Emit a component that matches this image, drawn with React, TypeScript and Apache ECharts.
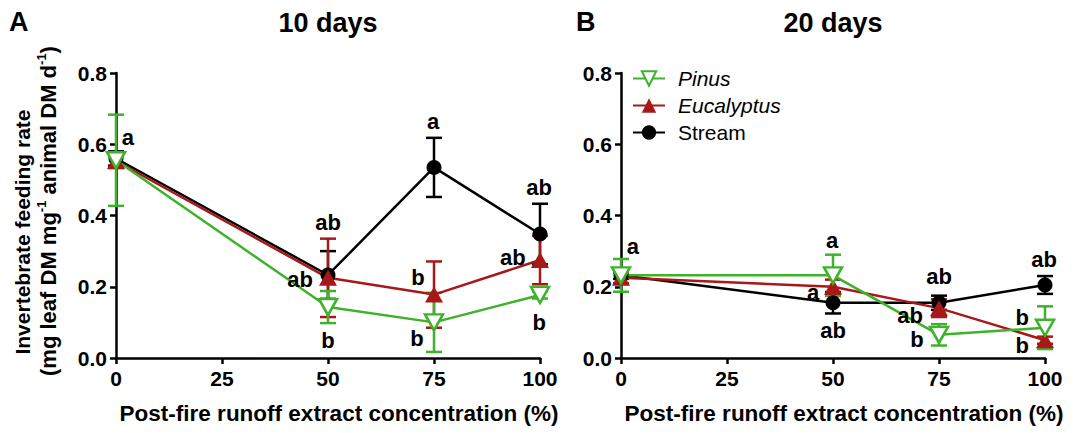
import React, { useEffect, useRef } from 'react';
import * as echarts from 'echarts';

// ---- data ----
const concentrations = [0, 50, 75, 100];
const xTicks = [0, 25, 50, 75, 100];
const yTicks = [0, 0.2, 0.4, 0.6, 0.8];

const pinus10 = [0.555, 0.143, 0.1, 0.177];
const pinus10Err = [0.128, 0.045, 0.083, 0.01];
const eucalyptus10 = [0.553, 0.225, 0.178, 0.275];
const eucalyptus10Err = [0.02, 0.11, 0.093, 0.068];
const stream10 = [0.56, 0.233, 0.535, 0.348];
const stream10Err = [0.02, 0.067, 0.083, 0.085];

const pinus20 = [0.232, 0.232, 0.065, 0.085];
const pinus20Err = [0.046, 0.058, 0.03, 0.06];
const eucalyptus20 = [0.225, 0.2, 0.14, 0.05];
const eucalyptus20Err = [0.015, 0.02, 0.025, 0.01];
const stream20 = [0.232, 0.155, 0.155, 0.205];
const stream20Err = [0.01, 0.03, 0.02, 0.025];

// significance letters: [x, y, text] in data units
const letters10: [number, number, string][] = [
  [2.8, 0.618, 'a'],
  [50, 0.379, 'ab'],
  [43.4, 0.219, 'ab'],
  [50, 0.05, 'b'],
  [74.8, 0.663, 'a'],
  [71.2, 0.225, 'b'],
  [71, 0.056, 'b'],
  [99.8, 0.48, 'ab'],
  [93.6, 0.281, 'ab'],
  [99.8, 0.101, 'b'],
];
const letters20: [number, number, string][] = [
  [2.8, 0.314, 'a'],
  [49.8, 0.331, 'a'],
  [45.3, 0.184, 'a'],
  [50, 0.076, 'ab'],
  [75, 0.229, 'ab'],
  [68.2, 0.119, 'ab'],
  [69.8, 0.051, 'b'],
  [99.8, 0.277, 'ab'],
  [94.6, 0.113, 'b'],
  [94.6, 0.034, 'b'],
];

const panelTitles = ['10 days', '20 days'];
const panelLetters = ['A', 'B'];
const seriesNames = ['Pinus', 'Eucalyptus', 'Stream'];
const xAxisTitle = 'Post-fire runoff extract concentration (%)';

// ---- styles ----
const FONT = '"Liberation Sans", Arial, Helvetica, sans-serif';
const GREEN = '#3db22a';
const RED = '#a81818';
const BLACK = '#000000';
const DOWN_TRI = 'path://M0,0L20,0L10,18Z';

function errSeries(vals: number[], errs: number[], color: string, idx: number) {
  return {
    type: 'custom',
    name: 'err',
    xAxisIndex: idx,
    yAxisIndex: idx,
    silent: true,
    data: concentrations.map((x, i) => [x, vals[i], errs[i]]),
    encode: { x: 0, y: 1 },
    renderItem: (_p: any, api: any) => {
      const x = api.value(0);
      const y = api.value(1);
      const e = api.value(2);
      const t = api.coord([x, y + e]);
      const b = api.coord([x, y - e]);
      const hw = 8;
      const st = { stroke: color, lineWidth: 2.5 };
      return {
        type: 'group',
        children: [
          { type: 'line', shape: { x1: t[0], y1: t[1], x2: b[0], y2: b[1] }, style: st },
          { type: 'line', shape: { x1: t[0] - hw, y1: t[1], x2: t[0] + hw, y2: t[1] }, style: st },
          { type: 'line', shape: { x1: b[0] - hw, y1: b[1], x2: b[0] + hw, y2: b[1] }, style: st },
        ],
      };
    },
  };
}

function lineSeries(name: string, vals: number[], idx: number) {
  const base: any = {
    type: 'line',
    name,
    xAxisIndex: idx,
    yAxisIndex: idx,
    data: concentrations.map((x, i) => [x, vals[i]]),
    lineStyle: { width: 2.5 },
    showAllSymbol: true,
  };
  if (name === 'Pinus') {
    base.symbol = DOWN_TRI;
    base.symbolSize = [18, 16];
    base.color = GREEN;
    base.itemStyle = { color: '#ffffff', borderColor: GREEN, borderWidth: 2.5 };
    base.lineStyle.color = GREEN;
  } else if (name === 'Eucalyptus') {
    base.symbol = 'triangle';
    base.symbolSize = [18, 16];
    base.color = RED;
    base.itemStyle = { color: RED };
    base.lineStyle.color = RED;
  } else {
    base.symbol = 'circle';
    base.symbolSize = 15;
    base.color = BLACK;
    base.itemStyle = { color: BLACK };
    base.lineStyle.color = BLACK;
  }
  return base;
}

function letterSeries(items: [number, number, string][], idx: number) {
  return {
    type: 'scatter',
    name: 'letters',
    xAxisIndex: idx,
    yAxisIndex: idx,
    silent: true,
    symbolSize: 0,
    z: 10,
    itemStyle: { color: '#000', opacity: 1 },
    data: items.map((d) => ({ value: [d[0], d[1]], name: d[2] })),
    label: {
      show: true,
      position: 'inside',
      formatter: (p: any) => p.name,
      fontFamily: FONT,
      fontWeight: 'bold',
      fontSize: 22,
      color: '#000',
      opacity: 1,
      textBorderWidth: 0,
      textBorderColor: 'transparent',
    },
  };
}

const axisLabelStyle = { fontFamily: FONT, fontWeight: 'bold' as const, fontSize: 21, color: '#000' };

function makeX(idx: number) {
  return {
    type: 'value',
    gridIndex: idx,
    min: xTicks[0],
    max: xTicks[xTicks.length - 1],
    interval: xTicks[1] - xTicks[0],
    axisLine: { show: true, onZero: false, lineStyle: { color: '#000', width: 2.5 } },
    axisTick: { show: true, length: 6, lineStyle: { color: '#000', width: 2.5 } },
    axisLabel: { ...axisLabelStyle, margin: 10 },
    splitLine: { show: false },
    name: xAxisTitle,
    nameLocation: 'middle',
    nameGap: 44,
    nameTextStyle: { ...axisLabelStyle, fontSize: 22.5, padding: [0, 0, 0, 22] },
  };
}

function makeY(idx: number) {
  return {
    type: 'value',
    gridIndex: idx,
    min: yTicks[0],
    max: yTicks[yTicks.length - 1],
    interval: yTicks[1] - yTicks[0],
    axisLine: { show: true, onZero: false, lineStyle: { color: '#000', width: 2.5 } },
    axisTick: { show: true, length: 6, lineStyle: { color: '#000', width: 2.5 } },
    axisLabel: { ...axisLabelStyle, margin: 9, formatter: (v: number) => v.toFixed(1) },
    splitLine: { show: false },
  };
}

const textStyle = (size: number) => ({
  fontFamily: FONT,
  fontWeight: 'bold',
  fontSize: size,
  fill: '#000',
});

export default function App() {
  const ref = useRef<HTMLDivElement>(null);
  useEffect(() => {
    if (!ref.current) return;
    const chart = echarts.init(ref.current, null, { renderer: 'svg' });
    const option: any = {
      animation: false,
      backgroundColor: '#ffffff',
      grid: [
        { left: 116, top: 73, width: 424, height: 285 },
        { left: 621, top: 73, width: 424, height: 285 },
      ],
      xAxis: [makeX(0), makeX(1)],
      yAxis: [makeY(0), makeY(1)],
      legend: {
        data: seriesNames,
        orient: 'vertical',
        left: 627,
        top: 63,
        itemWidth: 32,
        itemHeight: 18,
        itemGap: 6,
        selectedMode: false,
        textStyle: {
          fontFamily: FONT, fontSize: 21, color: '#000', padding: [0, 0, 0, 8],
          rich: { i: { fontFamily: FONT, fontSize: 21, fontStyle: 'italic', color: '#000' } },
        },
        formatter: (n: string) => (n === 'Stream' ? n : `{i|${n}}`),
      },
      graphic: [
        { type: 'text', x: 9, y: 8, style: { ...textStyle(27), text: panelLetters[0] } },
        { type: 'text', x: 576, y: 8, style: { ...textStyle(27), text: panelLetters[1] } },
        { type: 'text', x: 328, y: 23, style: { ...textStyle(27), text: panelTitles[0], align: 'center', verticalAlign: 'middle', textAlign: 'center', textVerticalAlign: 'middle' } },
        { type: 'text', x: 833, y: 23, style: { ...textStyle(27), text: panelTitles[1], align: 'center', verticalAlign: 'middle', textAlign: 'center', textVerticalAlign: 'middle' } },
        {
          type: 'text', x: 22, y: 232, rotation: Math.PI / 2,
          style: { ...textStyle(21), text: 'Invertebrate feeding rate', align: 'center', verticalAlign: 'middle', textAlign: 'center', textVerticalAlign: 'middle' },
        },
        {
          type: 'text', x: 48, y: 211, rotation: Math.PI / 2,
          style: {
            ...textStyle(22),
            text: '{n|(mg leaf DM mg}{s|-1}{n| animal DM d}{s|-1}{n|)}',
            align: 'center', verticalAlign: 'middle', textAlign: 'center', textVerticalAlign: 'middle',
            rich: {
              n: { fontFamily: FONT, fontWeight: 'bold', fontSize: 22, lineHeight: 26, fill: '#000', color: '#000' },
              s: { fontFamily: FONT, fontWeight: 'bold', fontSize: 13, lineHeight: 13, verticalAlign: 'top', fill: '#000', color: '#000' },
            },
          },
        },
      ],
      series: [
        errSeries(stream10, stream10Err, BLACK, 0),
        lineSeries('Stream', stream10, 0),
        errSeries(eucalyptus10, eucalyptus10Err, RED, 0),
        lineSeries('Eucalyptus', eucalyptus10, 0),
        errSeries(pinus10, pinus10Err, GREEN, 0),
        lineSeries('Pinus', pinus10, 0),
        letterSeries(letters10, 0),
        errSeries(stream20, stream20Err, BLACK, 1),
        lineSeries('Stream', stream20, 1),
        errSeries(eucalyptus20, eucalyptus20Err, RED, 1),
        lineSeries('Eucalyptus', eucalyptus20, 1),
        errSeries(pinus20, pinus20Err, GREEN, 1),
        lineSeries('Pinus', pinus20, 1),
        letterSeries(letters20, 1),
      ],
    };
    chart.setOption(option);
    return () => chart.dispose();
  }, []);
  return <div ref={ref} style={{ position: 'absolute', left: 0, top: 0, width: 1073, height: 433 }} />;
}
